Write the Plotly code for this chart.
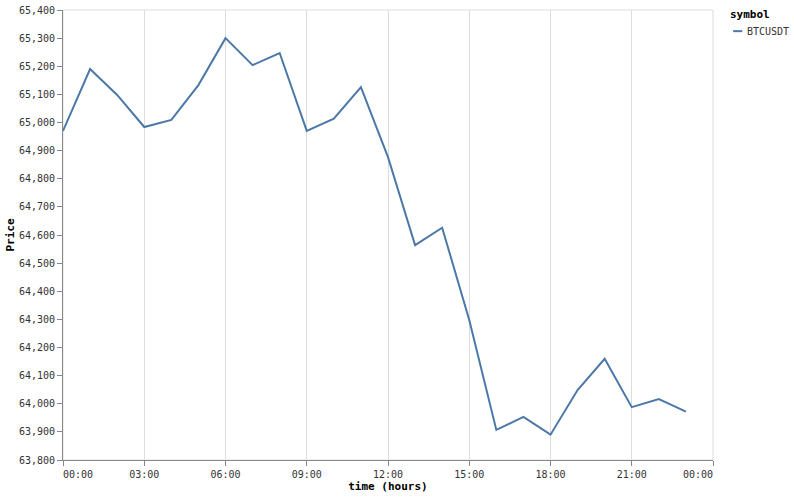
import pandas as pd
import plotly.graph_objects as go

# --- data (hourly BTCUSDT price) ---
HOURS = list(range(24))
PRICE = [
    64970, 65190, 65098, 64984, 65009, 65133, 65300, 65204,
    65247, 64970, 65014, 65126, 64877, 64564, 64626, 64298,
    63907, 63953, 63890, 64049, 64160, 63988, 64017, 63972,
]
SYMBOL = "BTCUSDT"

# x ticks every 3 hours; end labels are flush with the plot edges (as vega-lite does)
TICK_HOURS = [0, 3, 6, 9, 12, 15, 18, 21, 24]
TICK_LABELS = ["00:00", "03:00", "06:00", "09:00", "12:00", "15:00", "18:00", "21:00", "00:00"]

DAY = pd.Timestamp("2024-05-01")
times = [DAY + pd.Timedelta(hours=h) for h in HOURS]
tick_times = [DAY + pd.Timedelta(hours=h) for h in TICK_HOURS]

# monospace font, so padding with nbsp shifts the first/last label by exactly half its width
NB = "\u00a0"
tick_text = list(TICK_LABELS)
tick_text[0] = NB * len(tick_text[0]) + tick_text[0]
tick_text[-1] = tick_text[-1] + NB * len(tick_text[-1])

FONT = "DejaVu Sans Mono"
AXIS_GREY = "#888"
GRID_GREY = "#ddd"
LINE_BLUE = "#4c78a8"

fig = go.Figure()
fig.add_trace(go.Scatter(
    x=times, y=PRICE, mode="lines", name=SYMBOL,
    line=dict(color=LINE_BLUE, width=2), showlegend=False,
))

# legend drawn by hand (vega-lite style: short swatch, bold title)
fig.add_annotation(xref="paper", yref="paper", x=1.025, y=0.989, xanchor="left", yanchor="middle",
                   text="<b>symbol</b>", showarrow=False, borderpad=0,
                   font=dict(family=FONT, size=11, color="#000"))
fig.add_annotation(xref="paper", yref="paper", x=1.0505, y=0.953, xanchor="left", yanchor="middle",
                   text=SYMBOL, showarrow=False, borderpad=0,
                   font=dict(family=FONT, size=10, color="#333"))

fig.update_layout(
    width=794, height=497,
    template="plotly_white",
    plot_bgcolor="white", paper_bgcolor="white",
    margin=dict(l=63, r=81, t=10, b=37, autoexpand=False),
    font=dict(family=FONT, size=10, color="#333"),
    showlegend=False,
    shapes=[
        dict(type="rect", xref="paper", yref="paper", x0=0, x1=1, y0=0, y1=1,
             line=dict(color=GRID_GREY, width=1), layer="below"),
        dict(type="line", xref="paper", yref="paper", x0=1.031, x1=1.045,
             y0=0.953, y1=0.953, line=dict(color=LINE_BLUE, width=2)),
    ],
)

fig.update_xaxes(
    range=[tick_times[0], tick_times[-1]],
    tickmode="array", tickvals=tick_times, ticktext=tick_text,
    showgrid=True, gridcolor=GRID_GREY, gridwidth=1,
    showline=True, linecolor=AXIS_GREY, linewidth=1,
    ticks="outside", ticklen=5, tickcolor=AXIS_GREY,
    zeroline=False, automargin=False, ticklabeloverflow="allow",
    title=dict(text="<b>time (hours)</b>", font=dict(family=FONT, size=11, color="#000"),
               standoff=2),
)
fig.update_yaxes(
    range=[63800, 65400], dtick=100, tickformat=",",
    showgrid=False,
    showline=True, linecolor=AXIS_GREY, linewidth=1,
    ticks="outside", ticklen=5, tickcolor=AXIS_GREY,
    zeroline=False, automargin=False, ticklabeloverflow="allow",
    title=dict(text="<b>Price</b>", font=dict(family=FONT, size=11, color="#000"),
               standoff=2),
)

# drop the default 8px body margin so the figure sits at the window's corner
fig.write_html("out.html", config={"displayModeBar": False},
               post_script="document.body.style.margin='0';")
